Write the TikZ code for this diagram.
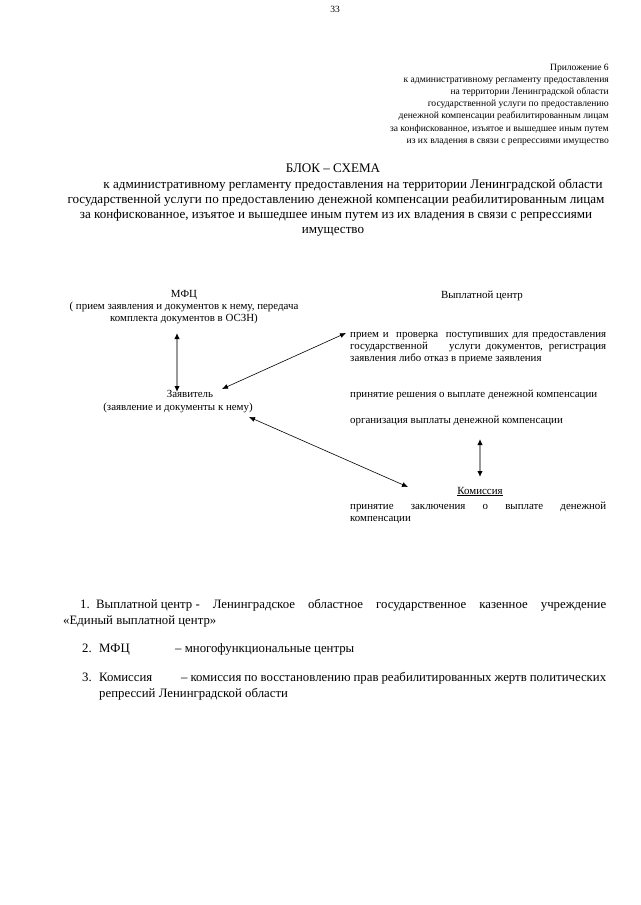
\documentclass[tikz,border=0pt]{standalone}
\usepackage{fontspec}
\setmainfont{Liberation Serif}
\usetikzlibrary{arrows.meta}
\tikzset{
  hdr/.style={inner sep=0pt, font=\fontsize{9.6}{12}\selectfont, anchor=base east},
  ttl/.style={inner sep=0pt, font=\fontsize{13.1}{15}\selectfont, anchor=base},
  dg/.style={inner sep=0pt, font=\fontsize{10.9}{12.5}\selectfont, anchor=base},
  dgw/.style={inner sep=0pt, font=\fontsize{10.9}{12.5}\selectfont, anchor=base west},
  ft/.style={inner sep=0pt, font=\fontsize{12.8}{16}\selectfont, anchor=base west},
  grayarr/.style={draw=black!40, line width=1.6pt, {Latex[length=6pt,width=5.5pt,color=black]}-{Latex[length=6pt,width=5.5pt,color=black]}},
  blkarr/.style={draw=black, line width=0.6pt, {Latex[length=6pt,width=5pt]}-{Latex[length=6pt,width=5pt]}}
}
\begin{document}
\begin{tikzpicture}[x=1pt,y=-1pt]
\useasboundingbox[fill=white] (0,0) rectangle (640,905);
\node[inner sep=0pt, font=\fontsize{9.5}{11}\selectfont] (pn) at (335,9) {33};
% header
\node[hdr] (h1) at (609,70) {Приложение 6};
\node[hdr] (h2) at (609,82) {к  административному регламенту предоставления};
\node[hdr] (h3) at (609,94) {на территории Ленинградской области};
\node[hdr] (h4) at (609,106) {государственной услуги по  предоставлению};
\node[hdr] (h5) at (609,118) {денежной компенсации реабилитированным лицам};
\node[hdr] (h6) at (609,131) {за конфискованное, изъятое и вышедшее  иным путем};
\node[hdr] (h7) at (609,143) {из их владения в связи с репрессиями имущество};
% title
\node[ttl] (t0) at (333,172) {БЛОК – СХЕМА};
\node[ttl] (t1) at (353,188) {к  административному регламенту предоставления на территории Ленинградской области};
\node[ttl] (t2) at (336,203) {государственной услуги по  предоставлению  денежной компенсации реабилитированным лицам};
\node[ttl] (t3) at (336,218) {за конфискованное, изъятое и вышедшее  иным путем из их владения в связи с репрессиями};
\node[ttl] (t4) at (333,233) {имущество};
% left
\node[dg] (mfc) at (184,297) {МФЦ};
\node[dg] (mfc2) at (184,309) {( прием заявления и документов к нему, передача};
\node[dg] (mfc3) at (184,321) {комплекта документов в ОСЗН)};
\node[dg] (zv) at (190,397) {Заявитель};
\node[dg] (zv2) at (178,410) {(заявление и документы к нему)};
% right
\node[dg] (vc) at (482,298) {Выплатной центр};
\node[dgw] (p1) at (350,337) {\makebox[256pt][s]{прием и\ \ проверка\ \ поступивших для предоставления}};
\node[dgw] (p2) at (350,349) {\makebox[256pt][s]{государственной\ \ \ \ услуги документов, регистрация}};
\node[dgw] (p3) at (350,361) {заявления либо отказ в приеме заявления};
\node[dgw] (p4) at (350,397) {принятие решения о выплате денежной компенсации};
\node[dgw] (p5) at (350,423) {организация выплаты денежной компенсации};
\node[dg] (km) at (480,494) {\underline{Комиссия}};
\node[dgw] (k1) at (350,509) {\makebox[256pt][s]{принятие заключения о выплате денежной}};
\node[dgw] (k2) at (350,521) {компенсации};
% arrows
\coordinate (a1) at (177,333);
\coordinate (a2) at (177,392);
\draw[grayarr] (a1) -- (a2);
\coordinate (b1) at (222,389);
\coordinate (b2) at (346,333);
\draw[blkarr] (b1) -- (b2);
\coordinate (c1) at (249,417);
\coordinate (c2) at (408,487);
\draw[blkarr] (c1) -- (c2);
\coordinate (d1) at (480,439);
\coordinate (d2) at (480,477);
\draw[grayarr] (d1) -- (d2);
% footnotes
\node[ft] (f1) at (80,608) {\hbox to 526pt{1.\ \ Выплатной центр -\hfill Ленинградское\hfill областное\hfill государственное\hfill казенное\hfill учреждение}};
\node[ft] (f1b) at (63,624) {«Единый выплатной центр»};
\node[ft] (f2n) at (82,652) {2.};
\node[ft] (f2a) at (99,652) {МФЦ};
\node[ft] (f2b) at (175,652) {– многофункциональные центры};
\node[ft] (f3n) at (82,681) {3.};
\node[ft] (f3a) at (99,681) {Комиссия};
\node[ft] (f3b) at (181,681) {\makebox[425pt][s]{– комиссия по восстановлению прав реабилитированных жертв политических}};
\node[ft] (f3c) at (99,697) {репрессий Ленинградской области};
\end{tikzpicture}
\end{document}
